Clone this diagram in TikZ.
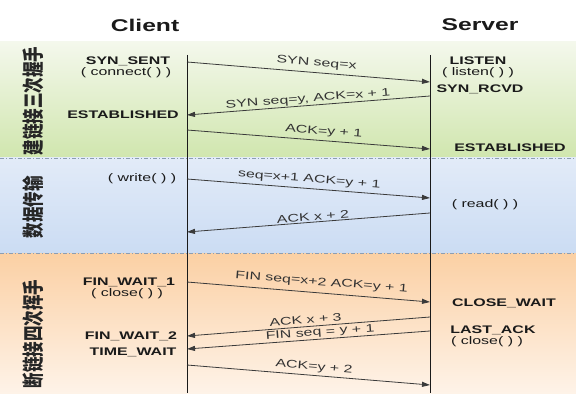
\documentclass[tikz,border=0pt]{standalone}
\usepackage{fontspec}
\usepackage{graphicx}
\usetikzlibrary{arrows.meta}
\newfontfamily\lblfont[FakeStretch=1.45]{Liberation Sans}
\newfontfamily\cjkfont{Noto Sans CJK SC}
\definecolor{lifeline}{HTML}{1A1A1A}
\definecolor{msgline}{HTML}{3A3A3A}
\definecolor{sepline}{HTML}{8C9DB2}
\definecolor{greentop}{HTML}{F4F8EC}
\definecolor{greenbot}{HTML}{D0E6AE}
\definecolor{bluetop}{HTML}{E2EBF8}
\definecolor{bluebot}{HTML}{CBDCF3}
\definecolor{orangetop}{HTML}{FBD0A4}
\definecolor{orangebot}{HTML}{FEF3E8}

\begin{document}
\begin{tikzpicture}[
    x=1pt, y=-1pt,
    header/.style={font=\lblfont\bfseries\fontsize{17}{20}\selectfont, text=lifeline},
    state/.style={font=\lblfont\bfseries\fontsize{11}{13}\selectfont, inner sep=1pt, text=lifeline},
    call/.style={font=\lblfont\fontsize{11}{13}\selectfont, inner sep=1pt, text=lifeline},
    phase/.style={font=\cjkfont\bfseries\fontsize{15.5}{16}\selectfont, rotate=90, inner sep=0pt, text=black!85},
    msg/.style={draw=msgline, line width=0.8pt, -{Triangle[length=8pt,width=5pt]}},
    msglabel/.style={font=\lblfont\fontsize{11}{13}\selectfont, sloped, inner sep=1pt, text=black!80},
    sep/.style={draw=sepline, line width=0.7pt, dash pattern=on 4pt off 2pt on 1pt off 2pt},
    life/.style={draw=lifeline, line width=1pt}
]
\useasboundingbox (0,0) rectangle (576,401);
\fill[white] (0,0) rectangle (576,401);

% phase bands
\shade[top color=greentop, bottom color=greenbot] (0,42) rectangle (576,158);
\shade[top color=bluetop, bottom color=bluebot] (0,158) rectangle (576,253);
\shade[top color=orangetop, bottom color=orangebot] (0,253) rectangle (576,393);
\draw[sep] (0,158) -- (576,158);
\draw[sep] (0,253) -- (576,253);

\node[phase] (connect) at (33,101) {\scalebox{1}[1.4]{建链接三次握手}};
\node[phase] (transfer) at (33,207) {\scalebox{1}[1.4]{数据传输}};
\node[phase] (close) at (33,334) {\scalebox{1}[1.4]{断链接四次挥手}};

% lifelines
\node[header] (client) at (145,25) {Client};
\node[header] (server) at (480,25) {Server};
\coordinate (cTop) at (187,55);
\coordinate (cBot) at (187,393);
\coordinate (sTop) at (430,55);
\coordinate (sBot) at (430,393);
\draw[life] (cTop) -- (cBot);
\draw[life] (sTop) -- (sBot);

% client states
\node[state] (synsent) at (128,61) {SYN\_SENT};
\node[call]  (connectcall) at (126,73) {( connect( ) )};
\node[state] (cest) at (123,115) {ESTABLISHED};
\node[call]  (writecall) at (142,179) {( write( ) )};
\node[state] (finwait1) at (129,282) {FIN\_WAIT\_1};
\node[call]  (cclosecall) at (127,294) {( close( ) )};
\node[state] (finwait2) at (131,336) {FIN\_WAIT\_2};
\node[state] (timewait) at (133,352) {TIME\_WAIT};

% server states
\node[state] (listen) at (478,61) {LISTEN};
\node[call]  (listencall) at (478,73) {( listen( ) )};
\node[state] (synrcvd) at (480,89) {SYN\_RCVD};
\node[state] (sest) at (510,148) {ESTABLISHED};
\node[call]  (readcall) at (485,205) {( read( ) )};
\node[state] (closewait) at (504,303) {CLOSE\_WAIT};
\node[state] (lastack) at (493,330) {LAST\_ACK};
\node[call]  (sclosecall) at (487,342) {( close( ) )};

% message end points
\coordinate (c1) at (187,62);  \coordinate (s1) at (430,82);
\coordinate (s2) at (430,96);  \coordinate (c2) at (187,115);
\coordinate (c3) at (187,130); \coordinate (s3) at (430,149);
\coordinate (c4) at (187,179); \coordinate (s4) at (430,198);
\coordinate (s5) at (430,213); \coordinate (c5) at (187,232);
\coordinate (c6) at (187,282); \coordinate (s6) at (430,302);
\coordinate (s7) at (430,317); \coordinate (c7) at (187,336);
\coordinate (s8) at (430,331); \coordinate (c8) at (187,349);
\coordinate (c9) at (187,365); \coordinate (s9) at (430,385);

\draw[msg] (c1) -- node[msglabel, pos=0.53, above=3pt] {SYN seq=x} (s1);
\draw[msg] (s2) -- node[msglabel, pos=0.5, above=0pt] {SYN seq=y, ACK=x + 1} (c2);
\draw[msg] (c3) -- node[msglabel, pos=0.56, above=2.5pt] {ACK=y + 1} (s3);
\draw[msg] (c4) -- node[msglabel, pos=0.5, above=2.5pt] {seq=x+1 ACK=y + 1} (s4);
\draw[msg] (s5) -- node[msglabel, pos=0.48, above=0pt] {ACK x + 2} (c5);
\draw[msg] (c6) -- node[msglabel, pos=0.55, above=4pt] {FIN seq=x+2 ACK=y + 1} (s6);
\draw[msg] (s7) -- node[msglabel, pos=0.51, inner sep=0pt, above=2.5pt] {ACK x + 3} (c7);
\draw[msg] (s8) -- node[msglabel, pos=0.45, inner sep=0pt, above=1pt] {FIN seq = y + 1} (c8);
\draw[msg] (c9) -- node[msglabel, pos=0.52, above=2pt] {ACK=y + 2} (s9);

\end{tikzpicture}
\end{document}
